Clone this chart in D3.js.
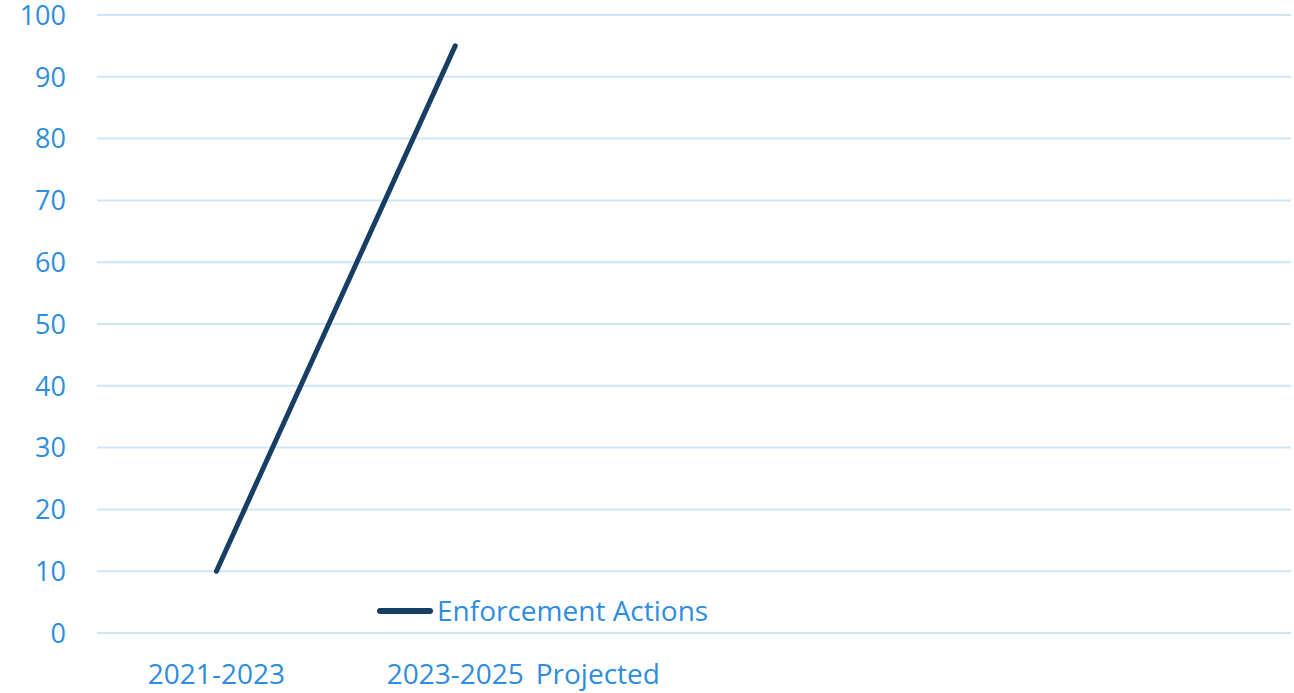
<!DOCTYPE html>
<html>
<head>
<meta charset="utf-8">
<script src="https://cdn.jsdelivr.net/npm/d3@7"></script>
<style>
  body { margin: 0; background: #fff; }
  text { font-family: "Open Sans", sans-serif; }
</style>
</head>
<body>
<div id="chart"></div>
<script>
// categories (only the first two are labelled, the rest are empty slots)
var categories = ["c1", "c2", "c3", "c4", "c5"];
var category_labels = ["2021-2023", "2023-2025|Projected", "", "", ""];
var series_name = "Enforcement Actions";
var series_values = [10, 95];
var y_ticks = [0, 10, 20, 30, 40, 50, 60, 70, 80, 90, 100];

var width = 1294, height = 693;
var margin = { top: 15, right: 3, bottom: 60, left: 97 };
var text_color = "#2e8ddd", grid_color = "#cfe5f8", line_color = "#173f66";

var svg = d3.select("#chart").append("svg")
    .attr("width", width)
    .attr("height", height);

var x = d3.scaleBand()
    .domain(categories)
    .range([margin.left, width - margin.right]);

var y = d3.scaleLinear()
    .domain([0, 100])
    .range([height - margin.bottom, margin.top]);

// grid lines
svg.append("g").selectAll("line")
    .data(y_ticks)
    .enter().append("line")
    .attr("x1", margin.left)
    .attr("x2", width - margin.right)
    .attr("y1", function (d) { return y(d); })
    .attr("y2", function (d) { return y(d); })
    .attr("stroke", grid_color)
    .attr("stroke-width", 2);

// y labels
svg.append("g").selectAll("text")
    .data(y_ticks)
    .enter().append("text")
    .attr("x", 66)
    .attr("y", function (d) { return y(d); })
    .attr("dy", "0.36em")
    .attr("font-size", "27px")
    .attr("fill", text_color)
    .style("text-anchor", "end")
    .text(function (d) { return d; });

// x labels
var xl = svg.append("g").selectAll("text")
    .data(categories)
    .enter().append("text")
    .attr("y", 684)
    .attr("font-size", "28px")
    .attr("fill", text_color)
    .style("text-anchor", "start");

xl.each(function (d, i) {
    var parts = category_labels[i].split("|");
    var t = d3.select(this);
    if (!parts[0]) return;
    t.text(parts[0]);
    var w = this.getComputedTextLength();
    var cx = x(d) + x.bandwidth() / 2;
    t.attr("x", cx - w / 2);
    if (parts.length > 1) {
        t.append("tspan").attr("dx", 12).text(parts[1]);
    }
});

// series line
var line = d3.line()
    .x(function (d, i) { return x(categories[i]) + x.bandwidth() / 2; })
    .y(function (d) { return y(d); });

svg.append("path")
    .datum(series_values)
    .attr("d", line)
    .attr("fill", "none")
    .attr("stroke", line_color)
    .attr("stroke-width", 5)
    .attr("stroke-linecap", "round");

// legend
var legend = svg.append("g").attr("transform", "translate(378,611)");
legend.append("line")
    .attr("x1", 2).attr("x2", 52)
    .attr("y1", 0).attr("y2", 0)
    .attr("stroke", line_color)
    .attr("stroke-width", 6)
    .attr("stroke-linecap", "round");
legend.append("text")
    .attr("x", 59)
    .attr("dy", "0.36em")
    .attr("font-size", "28px")
    .attr("fill", text_color)
    .text(series_name);
</script>
</body>
</html>
